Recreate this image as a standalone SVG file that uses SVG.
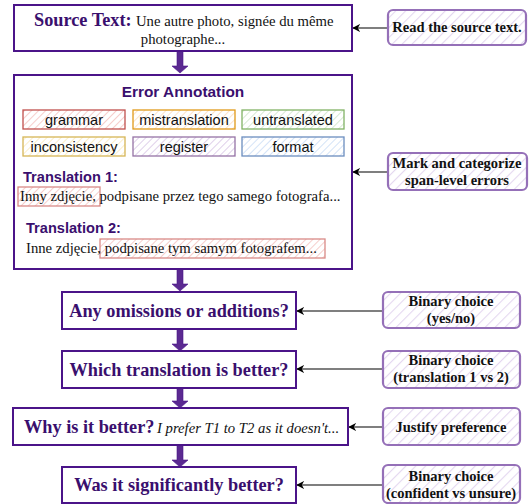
<svg xmlns="http://www.w3.org/2000/svg" width="529" height="504" viewBox="0 0 529 504">
<defs>
<pattern id="hP" width="7" height="7" patternUnits="userSpaceOnUse" patternTransform="rotate(45)"><rect width="7" height="7" fill="#ffffff"/><line x1="0" y1="0" x2="0" y2="7" stroke="#e4d7f0" stroke-width="2.2"/></pattern>
<pattern id="hR" width="5" height="5" patternUnits="userSpaceOnUse" patternTransform="rotate(45)"><rect width="5" height="5" fill="#ffffff"/><line x1="0" y1="0" x2="0" y2="5" stroke="#f6c9c7" stroke-width="1.8"/></pattern>
<pattern id="hO" width="5" height="5" patternUnits="userSpaceOnUse" patternTransform="rotate(45)"><rect width="5" height="5" fill="#ffffff"/><line x1="0" y1="0" x2="0" y2="5" stroke="#fde0c4" stroke-width="1.8"/></pattern>
<pattern id="hG" width="5" height="5" patternUnits="userSpaceOnUse" patternTransform="rotate(45)"><rect width="5" height="5" fill="#ffffff"/><line x1="0" y1="0" x2="0" y2="5" stroke="#d3e8cf" stroke-width="1.8"/></pattern>
<pattern id="hY" width="5" height="5" patternUnits="userSpaceOnUse" patternTransform="rotate(45)"><rect width="5" height="5" fill="#ffffff"/><line x1="0" y1="0" x2="0" y2="5" stroke="#fbecc2" stroke-width="1.8"/></pattern>
<pattern id="hV" width="5" height="5" patternUnits="userSpaceOnUse" patternTransform="rotate(45)"><rect width="5" height="5" fill="#ffffff"/><line x1="0" y1="0" x2="0" y2="5" stroke="#dccbe8" stroke-width="1.8"/></pattern>
<pattern id="hB" width="5" height="5" patternUnits="userSpaceOnUse" patternTransform="rotate(45)"><rect width="5" height="5" fill="#ffffff"/><line x1="0" y1="0" x2="0" y2="5" stroke="#cfe0f7" stroke-width="1.8"/></pattern>
<marker id="ah" viewBox="0 0 10 10" refX="9" refY="5" markerWidth="8" markerHeight="8" markerUnits="userSpaceOnUse" orient="auto"><path d="M10,5 L0,0 L3,5 L0,10 Z" fill="#000"/></marker>
</defs>
<style>
.main{fill:#ffffff;stroke:#4b1489;stroke-width:2}
.side{fill:url(#hP);stroke:#9570b8;stroke-width:2.2}
.q{font-family:"Liberation Serif",serif;font-weight:bold;font-size:18.3px;fill:#3a0f6e}
.qm{text-anchor:middle}
.st{font-family:"Liberation Serif",serif;font-weight:bold;font-size:14.5px;fill:#111;text-anchor:middle}
.ser{font-family:"Liberation Serif",serif;font-size:14.7px;fill:#111}
.cat{font-family:"Liberation Sans",sans-serif;font-size:14.5px;fill:#111;text-anchor:middle}
.sans{font-family:"Liberation Sans",sans-serif;font-weight:bold;fill:#3a0f6e}
.conn{stroke:#000;stroke-width:1.2;fill:none}
.big{fill:#5b2a91;stroke:#4b1489;stroke-width:0.6}
</style>
<g id="connectors">
<path class="big" d="M177,51 h6 v15 h5 l-8,7 l-8,-7 h5 z"/>
<path class="big" d="M177,269 h6 v15 h5 l-8,7 l-8,-7 h5 z"/>
<path class="big" d="M177,329 h6 v15 h5 l-8,7 l-8,-7 h5 z"/>
<path class="big" d="M177,388 h6 v13 h5 l-8,7 l-8,-7 h5 z"/>
<path class="big" d="M177,445 h6 v15 h5 l-8,7 l-8,-7 h5 z"/>
<line class="conn" x1="388" y1="28" x2="353" y2="28" marker-end="url(#ah)"/>
<line class="conn" x1="388" y1="172" x2="353" y2="172" marker-end="url(#ah)"/>
<line class="conn" x1="383" y1="311" x2="297" y2="311" marker-end="url(#ah)"/>
<line class="conn" x1="383" y1="369" x2="297" y2="369" marker-end="url(#ah)"/>
<line class="conn" x1="383" y1="427" x2="349" y2="427" marker-end="url(#ah)"/>
<line class="conn" x1="383" y1="485" x2="297" y2="485" marker-end="url(#ah)"/>
</g>
<g id="source">
<rect class="main" x="14" y="5" width="338" height="46"/>
<text class="q" x="34" y="26">Source Text:</text>
<text class="ser" x="136" y="26">Une autre photo, signée du même</text>
<text class="ser" x="183" y="44" text-anchor="middle">photographe...</text>
</g>
<g id="read">
<rect class="side" x="388" y="10" width="138" height="35" rx="5"/>
<text class="st" x="457" y="32">Read the source text.</text>
</g>
<g id="annotation">
<rect class="main" x="14" y="75" width="338" height="194"/>
<text class="sans" x="183" y="97" font-size="15.4" text-anchor="middle">Error Annotation</text>
<rect x="23" y="110" width="102" height="19" fill="url(#hR)" stroke="#c0504d" stroke-width="1.3"/>
<text class="cat" x="74" y="125">grammar</text>
<rect x="133" y="110" width="102" height="19" fill="url(#hO)" stroke="#e09a1a" stroke-width="1.3"/>
<text class="cat" x="184" y="125">mistranslation</text>
<rect x="242" y="110" width="102" height="19" fill="url(#hG)" stroke="#82b366" stroke-width="1.3"/>
<text class="cat" x="293" y="125">untranslated</text>
<rect x="23" y="137" width="102" height="19" fill="url(#hY)" stroke="#d6b656" stroke-width="1.3"/>
<text class="cat" x="74" y="152">inconsistency</text>
<rect x="133" y="137" width="102" height="19" fill="url(#hV)" stroke="#9673a6" stroke-width="1.3"/>
<text class="cat" x="184" y="152">register</text>
<rect x="242" y="137" width="102" height="19" fill="url(#hB)" stroke="#6c8ebf" stroke-width="1.3"/>
<text class="cat" x="293" y="152">format</text>
<text class="sans" x="23" y="182" font-size="14.6">Translation 1:</text>
<rect x="18" y="187" width="82" height="19" fill="url(#hR)" stroke="#d98a87" stroke-width="1.3"/>
<text class="ser" x="20" y="201">Inny zdjęcie, podpisane przez tego samego fotografa...</text>
<text class="sans" x="26" y="233" font-size="14.6">Translation 2:</text>
<rect x="100" y="239" width="225" height="19" fill="url(#hR)" stroke="#d98a87" stroke-width="1.3"/>
<text class="ser" x="26" y="253">Inne zdjęcie, podpisane tym samym fotografem...</text>
</g>
<g id="mark">
<rect class="side" x="388" y="153" width="139" height="37" rx="5"/>
<text class="st" x="457" y="168">Mark and categorize</text>
<text class="st" x="457" y="185">span-level errors</text>
</g>
<g id="omissions">
<rect class="main" x="62" y="292" width="234" height="37"/>
<text class="q qm" x="179" y="317">Any omissions or additions?</text>
</g>
<g id="binary1">
<rect class="side" x="383" y="292" width="137" height="36" rx="5"/>
<text class="st" x="451" y="306">Binary choice</text>
<text class="st" x="451" y="323">(yes/no)</text>
</g>
<g id="which">
<rect class="main" x="62" y="351" width="234" height="37"/>
<text class="q qm" x="179" y="376">Which translation is better?</text>
</g>
<g id="binary2">
<rect class="side" x="383" y="351" width="137" height="37" rx="5"/>
<text class="st" x="451" y="365">Binary choice</text>
<text class="st" x="451" y="382">(translation 1 vs 2)</text>
</g>
<g id="why">
<rect class="main" x="13" y="408" width="335" height="37"/>
<text class="q" x="24" y="433" font-size="17.8">Why is it better?</text>
<text class="ser" x="157" y="433" font-size="14.4" font-style="italic">I prefer T1 to T2 as it doesn't...</text>
</g>
<g id="justify">
<rect class="side" x="383" y="408" width="137" height="37" rx="5"/>
<text class="st" x="451" y="432">Justify preference</text>
</g>
<g id="significant">
<rect class="main" x="62" y="467" width="234" height="36"/>
<text class="q qm" x="179" y="491">Was it significantly better?</text>
</g>
<g id="binary3">
<rect class="side" x="383" y="465" width="137" height="38" rx="5"/>
<text class="st" x="451" y="481">Binary choice</text>
<text class="st" x="451" y="498">(confident vs unsure)</text>
</g>
</svg>
